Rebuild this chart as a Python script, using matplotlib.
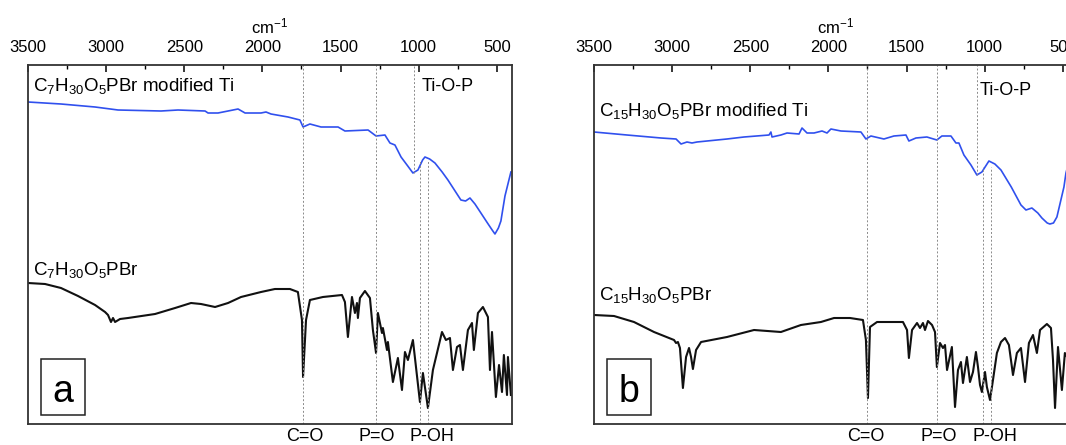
import matplotlib
matplotlib.use("Agg")
import matplotlib.pyplot as plt
from matplotlib.ticker import MultipleLocator
from matplotlib.patches import Rectangle

plt.rcParams['font.family'] = ['Liberation Sans', 'DejaVu Sans']
plt.rcParams['mathtext.default'] = 'regular'

# panel a - modified Ti (blue)
wn_a_ti = [3500, 3289, 3071, 2924, 2649, 2540, 2367, 2348, 2284, 2156, 2111, 2009, 1977, 1945,
           1836, 1760, 1740, 1696, 1625, 1516, 1472, 1324, 1273, 1216, 1184, 1152, 1113, 1070,
           1037, 1005, 975, 960, 930, 896, 850, 813, 730, 700, 672, 640, 602, 560, 530,
           512, 490, 474, 448, 410]
t_a_ti = [322, 320, 317, 314, 313, 314, 313, 311, 311, 315, 311, 311, 312, 310,
          307, 304, 297, 300, 297, 297, 293, 294, 288, 289, 281, 279, 267, 258,
          251, 254, 264, 267, 265, 261, 252, 244, 224, 223, 226, 220, 211, 201, 194,
          190, 196, 203, 228, 252]

# panel a - free phosphonate (black)
wn_a_lig = [3500, 3391, 3289, 3180, 3071, 3007, 2988, 2969, 2956, 2943, 2911, 2860, 2687, 2559,
            2457, 2393, 2303, 2220, 2137, 2009, 1920, 1824, 1773, 1747, 1740, 1721, 1696, 1613,
            1491, 1472, 1453, 1427, 1408, 1395, 1389, 1376, 1344, 1312, 1293, 1273, 1261, 1235,
            1229, 1203, 1197, 1165, 1133, 1107, 1088, 1069, 1037, 992, 973, 941, 909, 851,
            826, 800, 781, 755, 736, 717, 685, 659, 647, 621, 589, 557, 544, 531,
            506, 486, 467, 455, 435, 429, 410]
t_a_lig = [141, 140, 136, 128, 119, 112, 109, 102, 106, 102, 105, 106, 110, 116,
           121, 120, 117, 121, 127, 132, 135, 135, 132, 104, 47, 104, 124, 127,
           129, 122, 87, 127, 111, 121, 106, 126, 133, 126, 94, 71, 111, 91,
           96, 74, 82, 42, 66, 34, 72, 64, 84, 22, 51, 16, 54, 92,
           84, 86, 54, 77, 79, 54, 94, 101, 74, 111, 117, 107, 54, 92,
           27, 59, 32, 69, 29, 67, 29]

# panel b - modified Ti (blue)
wn_b_ti = [3500, 3289, 3071, 2975, 2943, 2905, 2873, 2841, 2649, 2540, 2380, 2368, 2361, 2304,
           2265, 2188, 2169, 2137, 2092, 2041, 2009, 1984, 1920, 1792, 1760, 1728, 1645, 1581,
           1504, 1485, 1440, 1370, 1306, 1274, 1216, 1184, 1165, 1133, 1088, 1050, 1018, 973,
           935, 896, 830, 768, 736, 698, 660, 634, 600, 583, 560, 538, 493, 480, 440, 405]
t_b_ti = [292, 289, 286, 285, 280, 282, 281, 282, 285, 287, 289, 292, 287, 289,
          291, 290, 296, 291, 291, 293, 291, 295, 293, 292, 285, 288, 285, 288,
          289, 283, 286, 287, 284, 288, 288, 281, 281, 269, 259, 249, 252, 263,
          260, 254, 237, 219, 214, 216, 211, 206, 201, 200, 201, 207, 237, 251, 275, 285]

# panel b - free phosphonate (black)
wn_b_lig = [3500, 3372, 3244, 3116, 3020, 2988, 2975, 2963, 2950, 2931, 2911, 2892, 2879, 2867,
            2847, 2815, 2649, 2476, 2304, 2176, 2048, 1964, 1862, 1779, 1760, 1747, 1734, 1689,
            1523, 1497, 1485, 1465, 1433, 1414, 1395, 1382, 1363, 1337, 1318, 1306, 1286, 1267,
            1254, 1241, 1210, 1190, 1171, 1152, 1139, 1114, 1094, 1075, 1056, 1043, 1030, 1018,
            998, 986, 966, 947, 922, 896, 870, 845, 819, 794, 768, 742, 717, 691,
            666, 646, 602, 576, 563, 550, 531, 506, 487, 450, 410]
t_b_lig = [109, 108, 102, 92, 86, 84, 81, 82, 76, 36, 67, 76, 67, 55,
           74, 82, 87, 94, 92, 99, 102, 106, 106, 104, 84, 26, 97, 102,
           102, 94, 66, 94, 101, 96, 101, 94, 103, 99, 92, 57, 81, 76,
           79, 54, 77, 17, 54, 62, 41, 67, 42, 52, 72, 57, 39, 32,
           52, 37, 24, 44, 71, 82, 86, 79, 49, 71, 76, 42, 81, 89,
           71, 94, 100, 96, 64, 16, 77, 34, 71, 60, 80]

panels = [
    dict(letter='a', ti=(wn_a_ti, t_a_ti), lig=(wn_a_lig, t_a_lig),
         ti_label='$C_7H_{30}O_5$PBr modified Ti', lig_label='$C_7H_{30}O_5$PBr',
         ti_y=0.941, lig_y=0.429, tiop_x=979, tiop_y=0.939,
         co=1740, po=1273, tiop=1030, poh=(992, 941), tiop_end=0.70, poh_start=0.735,
         lab_x=(1728, 1267, 915)),
    dict(letter='b', ti=(wn_b_ti, t_b_ti), lig=(wn_b_lig, t_b_lig),
         ti_label='$C_{15}H_{30}O_5$PBr modified Ti', lig_label='$C_{15}H_{30}O_5$PBr',
         ti_y=0.872, lig_y=0.36, tiop_x=1035, tiop_y=0.93,
         co=1753, po=1306, tiop=1050, poh=(1011, 960), tiop_end=0.694, poh_start=0.716,
         lab_x=(1760, 1293, 934)),
]

W, H = 1066, 445
fig = plt.figure(figsize=(W / 100, H / 100), dpi=100)
lefts = [28, 594]

for left, p in zip(lefts, panels):
    ax = fig.add_axes([left / W, (H - 424) / H, 484 / W, 359 / H])
    ax.plot(*p['ti'], color='#3050ee', lw=1.2)
    ax.plot(*p['lig'], color='#111111', lw=1.5)
    ax.set_xlim(3500, 403)
    ax.set_ylim(0, 359)

    dash = dict(color='#8a8a8a', lw=0.7, ls=(0, (2, 2)))
    ax.axvline(p['co'], **dash)
    ax.axvline(p['po'], **dash)
    ax.axvline(p['tiop'], ymin=p['tiop_end'], ymax=1, **dash)
    for w in p['poh']:
        ax.axvline(w, ymin=0, ymax=p['poh_start'], **dash)

    ax.xaxis.tick_top()
    ax.xaxis.set_label_position('top')
    ax.xaxis.set_major_locator(MultipleLocator(500))
    ax.xaxis.set_minor_locator(MultipleLocator(250))
    ax.tick_params(axis='x', which='major', direction='in', length=5, width=1.1,
                   labelsize=12, pad=7, top=True, bottom=False)
    ax.tick_params(axis='x', which='minor', direction='in', length=3, width=1.0,
                   top=True, bottom=False)
    ax.set_yticks([])
    ax.set_xlabel('cm$^{-1}$', fontsize=12, labelpad=5)
    for s in ax.spines.values():
        s.set_linewidth(1.3)
        s.set_color('#333333')

    tr = ax.get_xaxis_transform()
    ax.text(3470, p['ti_y'], p['ti_label'], transform=tr, fontsize=13.5, va='center')
    ax.text(3470, p['lig_y'], p['lig_label'], transform=tr, fontsize=13.5, va='center')
    ax.text(p['tiop_x'], p['tiop_y'], 'Ti-O-P', transform=tr, fontsize=13, va='center')
    for x, lab in zip(p['lab_x'], ['C=O', 'P=O', 'P-OH']):
        ax.text(x, -0.036, lab, transform=tr, fontsize=13, ha='center', va='center')

    ax.add_patch(Rectangle((0.027, 0.025), 0.091, 0.156, transform=ax.transAxes,
                           fill=False, lw=1.1, ec='#222222'))
    ax.text(0.072, 0.06, p['letter'], transform=ax.transAxes, fontsize=27,
            ha='center', va='baseline')

fig.savefig('out.png', dpi=100)
